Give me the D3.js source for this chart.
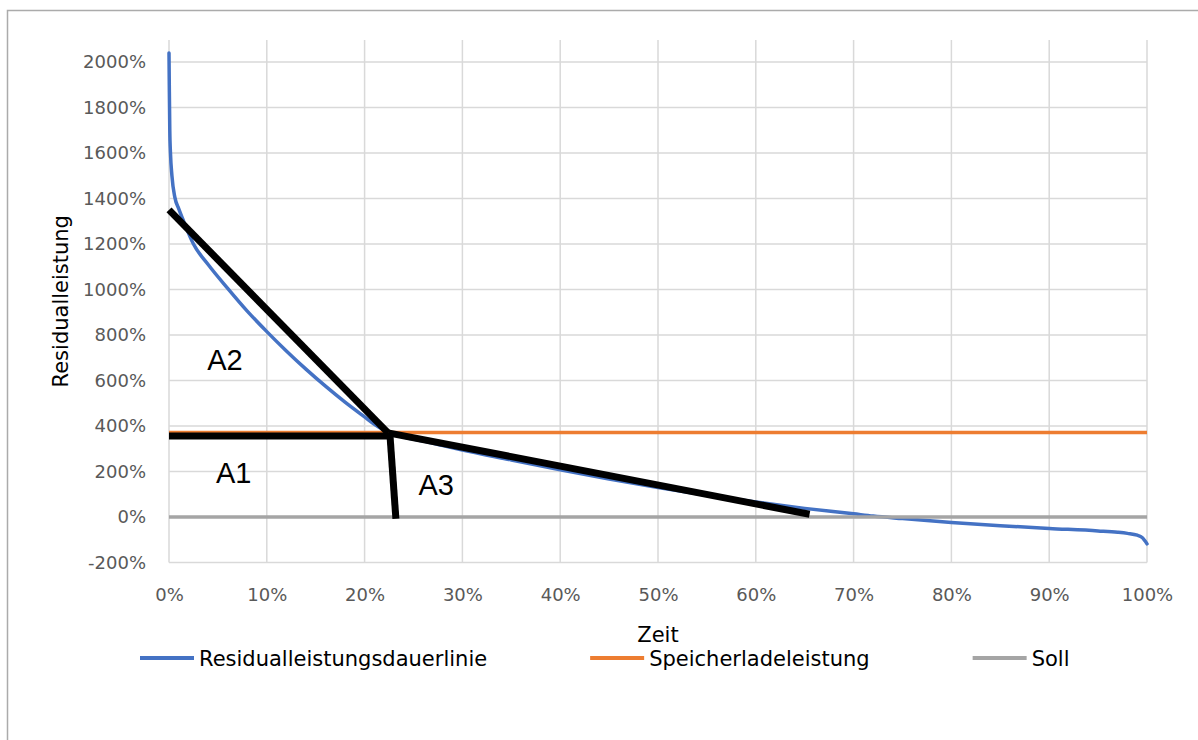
<!DOCTYPE html>
<html>
<head>
<meta charset="utf-8">
<script src="https://cdn.jsdelivr.net/npm/d3@7/dist/d3.min.js"></script>
<style>
  html, body { margin: 0; padding: 0; background: #fff; }
  svg { display: block; }
</style>
</head>
<body>
<svg id="chart" width="1198" height="740"></svg>
<script>
// ---- Data ----
const xTicks = [0, 10, 20, 30, 40, 50, 60, 70, 80, 90, 100];
const yTicks = [-200, 0, 200, 400, 600, 800, 1000, 1200, 1400, 1600, 1800, 2000];

// Residualleistungsdauerlinie: [Zeit %, Residualleistung %]
const residualX = [0, 0.03, 0.08, 0.15, 0.3, 0.6, 1.0, 1.5, 2.5, 4, 6, 8, 10, 12, 14, 16, 18, 20, 21, 22, 23, 24, 26, 28, 30, 35, 40, 45, 50, 55, 60, 65, 70, 72, 75, 80, 85, 90, 95, 97, 98, 99, 99.5, 100];
const residualY = [2040, 1900, 1700, 1600, 1500, 1405, 1355, 1300, 1200, 1110, 1005, 905, 815, 730, 650, 575, 505, 440, 408, 382, 364, 352, 334, 314, 294, 251, 208, 167, 130, 96, 66, 38, 14, 4, -7, -24, -38, -50, -61, -67, -72, -80, -90, -118];

const speicherX = [0, 100];
const speicherY = [371, 371];

const sollX = [0, 100];
const sollY = [0, 0];

// Black annotation strokes: [x1, y1, x2, y2] in data units
const annotX1 = [0, 0, 22.4, 22.6];
const annotY1 = [1350, 356, 370, 356];
const annotX2 = [22.4, 22.6, 65.5, 23.2];
const annotY2 = [370, 356, 12, -8];

const labelText = ["A1", "A2", "A3"];
const labelX = [4.8, 3.9, 25.5];
const labelY = [149, 646, 97];

const seriesNames = ["Residualleistungsdauerlinie", "Speicherladeleistung", "Soll"];
const seriesColors = ["#4472C4", "#ED7D31", "#A5A5A5"];

// ---- Layout ----
const svg = d3.select("#chart");
const plotLeft = 169, plotRight = 1147, plotTop = 40, plotBottom = 562.5;

const x = d3.scaleLinear().domain([0, 100]).range([plotLeft, plotRight]);
const y = d3.scaleLinear().domain([-200, 2097]).range([plotBottom, plotTop]);

// Chart frame
svg.append("rect")
  .attr("x", 7.5).attr("y", 10.5)
  .attr("width", 1300).attr("height", 800)
  .attr("fill", "none").attr("stroke", "#ababab").attr("stroke-width", 1.5);

// Gridlines
const grid = svg.append("g");
grid.selectAll("line.h").data(yTicks).enter().append("line")
  .attr("x1", plotLeft).attr("x2", plotRight)
  .attr("y1", d => y(d)).attr("y2", d => y(d))
  .attr("stroke", "#d9d9d9").attr("stroke-width", 1.5);
grid.selectAll("line.v").data(xTicks).enter().append("line")
  .attr("x1", d => x(d)).attr("x2", d => x(d))
  .attr("y1", plotTop).attr("y2", plotBottom)
  .attr("stroke", "#d9d9d9").attr("stroke-width", 1.5);

// Axes (labels only)
const yAxis = d3.axisLeft(y).tickValues(yTicks).tickFormat(d => d + "%").tickSize(0).tickPadding(23);
const gy = svg.append("g").attr("transform", `translate(${plotLeft},0)`).call(yAxis);
gy.select(".domain").remove();
gy.selectAll("text").attr("fill", "#595959").style("font-family", "DejaVu Sans").style("font-size", "18px");

const xAxis = d3.axisBottom(x).tickValues(xTicks).tickFormat(d => d + "%").tickSize(0).tickPadding(26);
const gx = svg.append("g").attr("transform", `translate(0,${plotBottom})`).call(xAxis);
gx.select(".domain").remove();
gx.selectAll("text").attr("fill", "#595959").style("font-family", "DejaVu Sans").style("font-size", "18px");

// Axis titles
svg.append("text")
  .attr("x", x(50)).attr("y", 642)
  .attr("text-anchor", "middle")
  .style("font-family", "DejaVu Sans").style("font-size", "21px")
  .attr("fill", "#000").text("Zeit");
svg.append("text")
  .attr("transform", `translate(68,${(plotTop + plotBottom) / 2}) rotate(-90)`)
  .attr("text-anchor", "middle")
  .style("font-family", "DejaVu Sans").style("font-size", "21px")
  .attr("fill", "#000").text("Residualleistung");

// Series
const residual = residualX.map((v, i) => [v, residualY[i]]);
const speicher = speicherX.map((v, i) => [v, speicherY[i]]);
const soll = sollX.map((v, i) => [v, sollY[i]]);

svg.append("path").datum(residual)
  .attr("d", d3.line().x(d => x(d[0])).y(d => y(d[1])).curve(d3.curveMonotoneX))
  .attr("fill", "none").attr("stroke", seriesColors[0]).attr("stroke-width", 3.5)
  .attr("stroke-linejoin", "round").attr("stroke-linecap", "round");
svg.append("path").datum(speicher).attr("d", d3.line().x(d => x(d[0])).y(d => y(d[1])))
  .attr("fill", "none").attr("stroke", seriesColors[1]).attr("stroke-width", 3.5);
svg.append("path").datum(soll).attr("d", d3.line().x(d => x(d[0])).y(d => y(d[1])))
  .attr("fill", "none").attr("stroke", seriesColors[2]).attr("stroke-width", 3.5);

// Annotation strokes
const annots = annotX1.map((v, i) => ({ x1: v, y1: annotY1[i], x2: annotX2[i], y2: annotY2[i] }));
svg.append("g").selectAll("line").data(annots).enter().append("line")
  .attr("x1", d => x(d.x1)).attr("y1", d => y(d.y1))
  .attr("x2", d => x(d.x2)).attr("y2", d => y(d.y2))
  .attr("stroke", "#000").attr("stroke-width", 7).attr("stroke-linecap", "butt");

// Area labels
svg.append("g").selectAll("text").data(labelText).enter().append("text")
  .attr("x", (d, i) => x(labelX[i])).attr("y", (d, i) => y(labelY[i]))
  .style("font-family", "Liberation Sans, Arial").style("font-size", "29px")
  .attr("fill", "#000").text(d => d);

// Legend
const legend = svg.append("g");
let lx = 140;
const ly = 658;
seriesNames.forEach((name, i) => {
  legend.append("line")
    .attr("x1", lx).attr("x2", lx + 54).attr("y1", ly).attr("y2", ly)
    .attr("stroke", seriesColors[i]).attr("stroke-width", 4);
  const t = legend.append("text")
    .attr("x", lx + 59).attr("y", ly + 8)
    .style("font-family", "DejaVu Sans").style("font-size", "21px")
    .attr("fill", "#000").text(name);
  lx = lx + 59 + t.node().getComputedTextLength() + 103;
});
</script>
</body>
</html>
